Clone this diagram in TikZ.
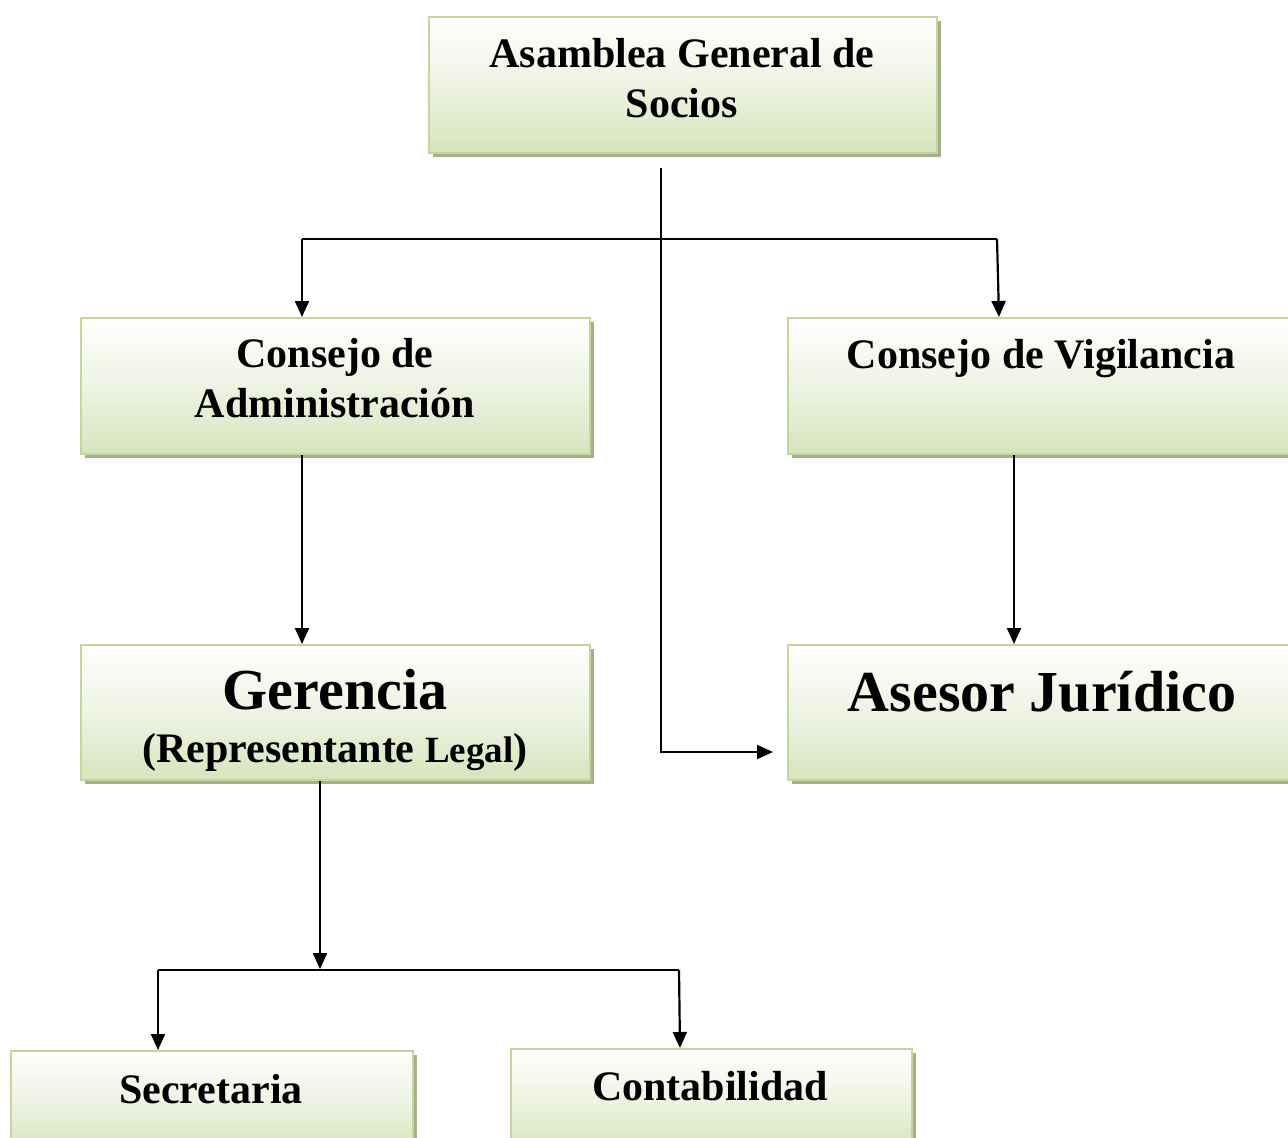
\documentclass[tikz,border=0pt]{standalone}
\usepackage{fontspec}
\setmainfont{Liberation Serif}
\usetikzlibrary{arrows.meta,shadows}
\definecolor{boxborder}{HTML}{C3D69B}
\definecolor{boxfill}{HTML}{D7E4BD}
\definecolor{boxmid}{HTML}{EEF3E3}
\definecolor{shadowcol}{HTML}{A6AE8C}
\tikzset{
  orgbox/.style={draw=boxborder, line width=2pt, top color=white, bottom color=boxfill, middle color=boxmid,
    inner sep=0pt, anchor=north west, minimum width=509pt, minimum height=136pt,
    drop shadow={shadow xshift=3.5pt, shadow yshift=-3.5pt, fill=shadowcol, opacity=1}},
  lbl/.style={anchor=base, font=\bfseries\fontsize{42}{50}\selectfont, inner sep=0pt},
  biglbl/.style={anchor=base, font=\bfseries\fontsize{58}{66}\selectfont, inner sep=0pt},
  conn/.style={line width=2.2pt, black},
  arr/.style={conn, -{Triangle[length=16pt,width=14pt]}}
}
\begin{document}
\begin{tikzpicture}[x=1pt,y=-1pt]
\fill[white] (0,0) rectangle (1288,1138);
\useasboundingbox (0,0) rectangle (1288,1138);
\clip (0,0) rectangle (1288,1138);
% boxes
\node[orgbox, minimum width=508pt] (asam) at (428,16) {};
\node[orgbox] (cadm) at (80,317) {};
\node[orgbox] (cvig) at (787,317) {};
\node[orgbox, minimum height=135pt] (ger) at (80,644) {};
\node[orgbox, minimum height=135pt] (ase) at (787,644) {};
\node[orgbox, minimum width=402pt, minimum height=100pt] (sec) at (10,1050) {};
\node[orgbox, minimum width=401pt, minimum height=100pt] (cont) at (510,1048) {};
% texts
\node[lbl] (t1) at (682,67) {Asamblea General de};
\node[lbl] (t2) at (682,117) {Socios};
\node[lbl] (t3) at (335,367) {Consejo de};
\node[lbl] (t4) at (335,417) {Administración};
\node[lbl] (t5) at (1041,368) {Consejo de Vigilancia};
\node[biglbl] (t6) at (335,709) {Gerencia};
\node[lbl] (t7) at (335,762) {(Representante {\fontsize{37}{44}\selectfont Legal})};
\node[biglbl] (t8) at (1042,711) {Asesor Jurídico};
\node[lbl] (t9) at (211,1103) {Secretaria};
\node[lbl] (t10) at (710,1100) {Contabilidad};
% connector points
\coordinate (tl) at (302,239);
\coordinate (tr) at (997,239);
\coordinate (tr2) at (999,239);
\coordinate (vstart) at (661,168);
\coordinate (vbend) at (661,752);
\coordinate (vend) at (773,752);
\coordinate (gsplit) at (320,970);
\coordinate (bl) at (158,970);
\coordinate (br) at (679,970);
\coordinate (br2) at (680,970);
% connectors
\draw[conn] (tl) -- (tr);
\draw[arr] (tl) -- (cadm.north -| tl);
\draw[arr] (tr) -- (cvig.north -| tr2);
\draw[arr] (vstart) -- (vbend) -- (vend);
\draw[arr] (cadm.south -| tl) -- (ger.north -| tl);
\draw[arr] (cvig.south -| 1014,0) -- (ase.north -| 1014,0);
\draw[arr] (ger.south -| gsplit) -- ([yshift=1pt]gsplit);
\draw[conn] (bl) -- (br);
\draw[arr] (bl) -- (sec.north -| bl);
\draw[arr] (br) -- (cont.north -| br2);
\end{tikzpicture}
\end{document}
